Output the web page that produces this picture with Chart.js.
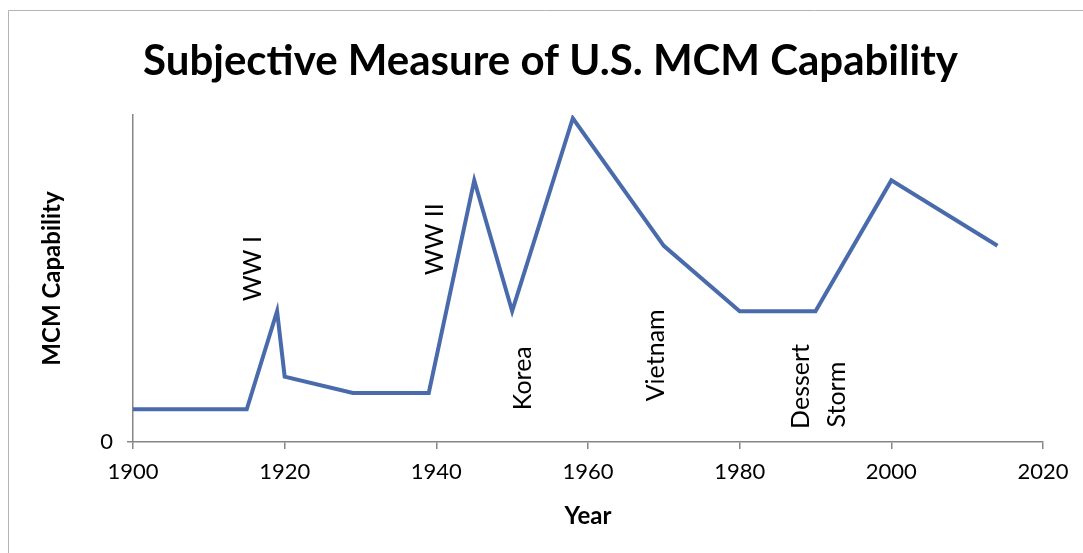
<!DOCTYPE html>
<html>
<head>
<meta charset="utf-8">
<script src="https://cdn.jsdelivr.net/npm/chart.js@4.4.1/dist/chart.umd.min.js"></script>
<style>
  html, body { margin: 0; padding: 0; background: #fff; }
</style>
</head>
<body>
<canvas id="myChart" width="1083" height="553"></canvas>
<script>
// values (no scale printed, so 0..10 units)
const years = [1900, 1915, 1919, 1920, 1929, 1939, 1945, 1950, 1958, 1970, 1980, 1990, 2000, 2014];
const capability = [1, 1, 4, 2, 1.5, 1.5, 8, 4, 9.9, 6, 4, 4, 8, 6];
const xTicks = [1900, 1920, 1940, 1960, 1980, 2000, 2020];
const yTicks = [0];

// event labels, placed by year / level
const eventLabels = ['WW I', 'WW II', 'Korea', 'Vietnam', 'Dessert', 'Storm'];
const eventYears = [1915.7, 1939.7, 1951.3, 1968.8, 1988.0, 1992.7];
const eventLevels = [5.3, 6.2, 1.95, 2.65, 1.7, 1.45];

Chart.defaults.font.family = 'Lato, "Open Sans", sans-serif';
Chart.defaults.color = '#000';

let frame = {
  id: 'frame',
  beforeDraw(chart) {
    let ctx = chart.ctx;
    ctx.save();
    ctx.fillStyle = '#fff';
    ctx.fillRect(0, 0, chart.width, chart.height);
    ctx.strokeStyle = '#b4b4b4';
    ctx.lineWidth = 1;
    ctx.beginPath();
    ctx.moveTo(8.5, chart.height);
    ctx.lineTo(8.5, 10.5);
    ctx.lineTo(chart.width, 10.5);
    ctx.stroke();
    ctx.restore();
  }
};

let eventText = {
  id: 'eventText',
  afterDatasetsDraw(chart) {
    const { ctx, scales: { x, y } } = chart;
    ctx.save();
    ctx.font = '25px Lato';
    ctx.fillStyle = '#000';
    ctx.textAlign = 'center';
    ctx.textBaseline = 'alphabetic';
    eventLabels.forEach((label, i) => {
      let px = x.getPixelForValue(eventYears[i]);
      let py = y.getPixelForValue(eventLevels[i]);
      ctx.save();
      ctx.translate(px + 9, py);
      ctx.rotate(-Math.PI / 2);
      ctx.fillText(label, 0, 0);
      ctx.restore();
    });
    ctx.restore();
  }
};

let axisGray = '#868686';

let ctx = document.getElementById('myChart').getContext('2d');
let chart = new Chart(ctx, {
  type: 'line',
  data: {
    datasets: [{
      label: 'MCM Capability',
      data: years.map((yr, i) => ({ x: yr, y: capability[i] })),
      borderColor: '#4A6BAB',
      borderWidth: 4,
      borderJoinStyle: 'miter',
      pointRadius: 0,
      tension: 0,
      fill: false
    }]
  },
  options: {
    responsive: false,
    animation: false,
    layout: { padding: { left: 18, right: 0, top: 10, bottom: 0 } },
    plugins: {
      legend: { display: false },
      tooltip: { enabled: false },
      title: {
        display: true,
        text: 'Subjective Measure of U.S. MCM Capability',
        color: '#000',
        font: { size: 42, weight: 'bold' },
        padding: { top: 26, bottom: 28.6 }
      }
    },
    scales: {
      x: {
        type: 'linear',
        min: 1900,
        max: 2020,
        afterBuildTicks: s => { s.ticks = xTicks.map(v => ({ value: v })); },
        ticks: { font: { size: 22 }, color: '#000', padding: 10, maxRotation: 0, callback: v => String(v) },
        grid: { drawOnChartArea: false, drawTicks: true, tickLength: 7, color: axisGray, lineWidth: 1.5 },
        border: { color: axisGray, width: 1.5 },
        title: { display: true, text: 'Year', color: '#000', font: { size: 24, weight: 'bold' }, padding: { top: 0, bottom: 22 } },
        afterFit: s => { s.height = 111; }
      },
      y: {
        min: 0,
        max: 10,
        afterBuildTicks: s => { s.ticks = yTicks.map(v => ({ value: v })); },
        ticks: { font: { size: 22 }, color: '#000', padding: 14 },
        grid: { drawOnChartArea: false, drawTicks: true, tickLength: 6, color: axisGray, lineWidth: 1.5 },
        border: { color: axisGray, width: 1.5 },
        title: { display: true, text: 'MCM Capability', color: '#000', font: { size: 24, weight: 'bold' }, padding: { top: 20, bottom: 0 } },
        afterFit: s => { s.width = 115; }
      },
      y2: {
        position: 'right',
        grid: { display: false },
        border: { display: false },
        ticks: { display: false },
        afterFit: s => { s.width = 40; }
      }
    }
  },
  plugins: [frame, eventText]
});
</script>
</body>
</html>
